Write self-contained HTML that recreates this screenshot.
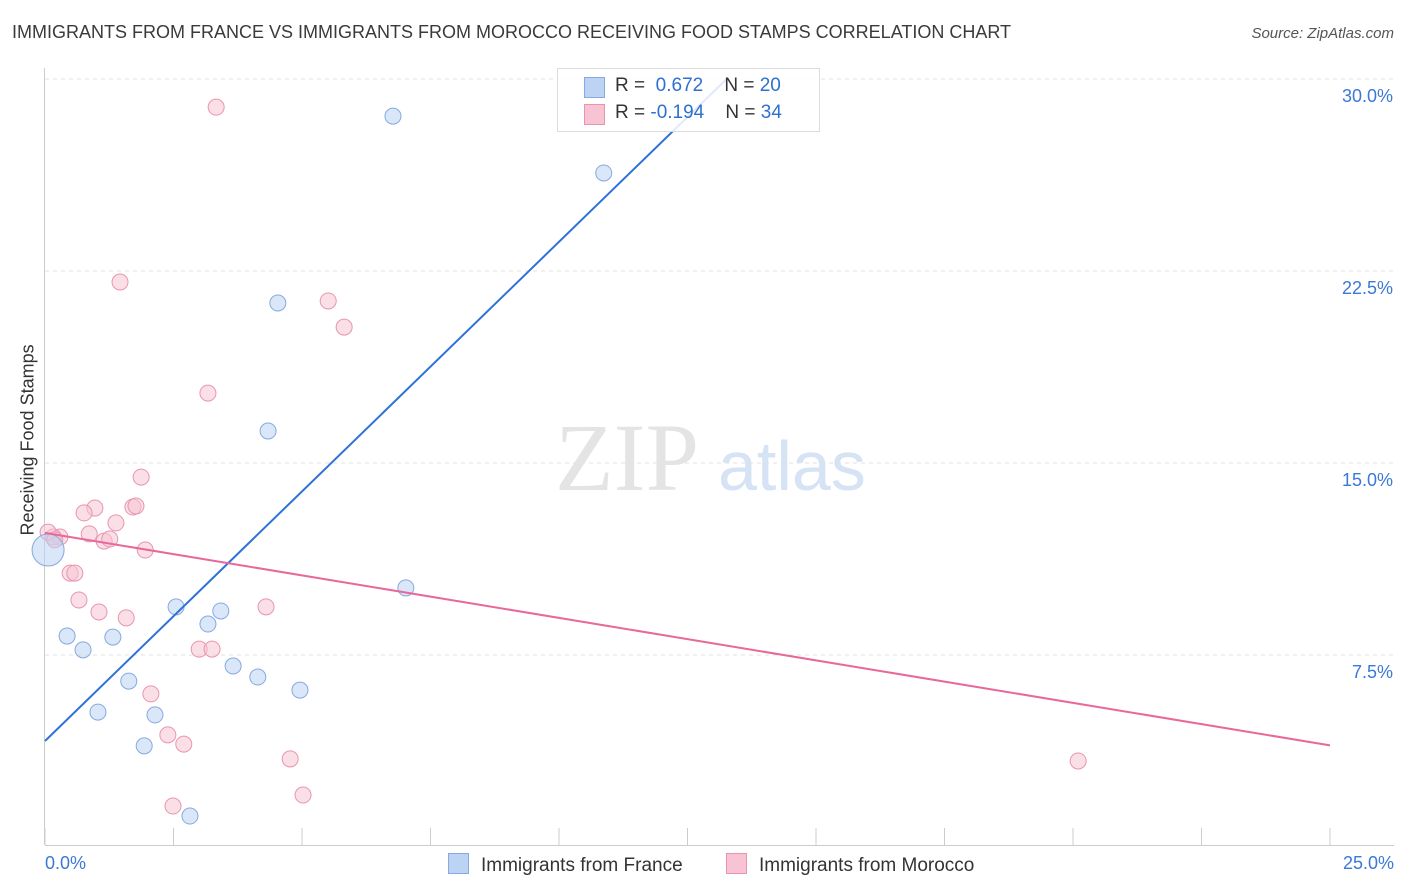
<!DOCTYPE html>
<html><head><meta charset="utf-8"><style>
body{margin:0;background:#fff;font-family:"Liberation Sans",sans-serif;}
#wrap{position:relative;width:1406px;height:892px;overflow:hidden;}
.t{position:absolute;white-space:nowrap;}
</style></head><body>
<div id="wrap">
<div class="t" style="left:12px;top:22px;font-size:18px;color:#3a3a3a;">IMMIGRANTS FROM FRANCE VS IMMIGRANTS FROM MOROCCO RECEIVING FOOD STAMPS CORRELATION CHART</div>
<div class="t" style="right:12px;top:25px;font-size:15px;color:#555;font-style:italic;">Source: ZipAtlas.com</div>
<svg id="svg" width="1406" height="892" style="position:absolute;left:0;top:0;"></svg>
</div>
<script>
const xTicks=[0,2.5,5,7.5,10,12.5,15,17.5,20,22.5,25];
const yTicks=[7.5,15,22.5,30];
const yTickLabels=["7.5%","15.0%","22.5%","30.0%"];
const franceX=[6.77,10.87,4.53,4.34,7.02,2.55,3.42,3.17,0.43,1.32,0.74,3.66,4.14,1.63,4.96,1.03,2.14,1.93,2.82,0.06];
const franceY=[28.55,26.33,21.25,16.25,10.12,9.38,9.22,8.71,8.24,8.20,7.70,7.07,6.64,6.48,6.13,5.27,5.16,3.95,1.21,11.6];
const moroccoX=[3.33,1.46,5.51,5.82,3.17,1.87,0.97,0.76,1.71,1.77,1.38,0.86,0.29,0.16,1.15,1.26,1.95,0.49,0.58,0.66,1.05,1.58,4.30,3.00,3.25,2.06,2.39,2.70,4.77,2.49,5.02,20.10,0.06,0.19];
const moroccoY=[28.9,22.07,21.33,20.31,17.73,14.45,13.24,13.05,13.28,13.32,12.66,12.23,12.11,12.11,11.95,12.03,11.6,10.7,10.7,9.65,9.18,8.95,9.38,7.73,7.73,5.98,4.38,4.02,3.44,1.6,2.03,3.36,12.3,12.0];
const franceLine=[0,4.14,1.95];
const moroccoLine=[0,12.27,-0.332];
const NS="http://www.w3.org/2000/svg";
const svg=document.getElementById('svg');
const X=v=>45+v*51.4, Y=v=>847-v*25.6;
function mk(tag,at){const e=document.createElementNS(NS,tag);for(const k in at)e.setAttribute(k,at[k]);svg.appendChild(e);return e;}
yTicks.forEach((v,i)=>{
 const g=mk('line',{x1:45,x2:1394,y1:Y(v),y2:Y(v),stroke:'#e2e2e2','stroke-dasharray':'4,4'});
 
 
 const t=mk('text',{x:1393,y:Y(v)+23,'text-anchor':'end','font-size':18,fill:'#3b78d8','font-family':'Liberation Sans'});
 t.textContent=yTickLabels[i];
 
 
});
const topGrid=mk('line',{x1:45,x2:1394,y1:79,y2:79,stroke:'#e2e2e2','stroke-dasharray':'4,4'});


const ya=mk('line',{x1:44.5,x2:44.5,y1:68,y2:845,stroke:'#ccc'});


const xa=mk('line',{x1:45,x2:1394,y1:845.5,y2:845.5,stroke:'#ccc'});


xTicks.forEach(v=>{
 const l=mk('line',{x1:X(v),x2:X(v),y1:828,y2:845,stroke:'#ccc'});
 
 
});
const wm=mk('text',{x:555,y:490,'font-size':96,fill:'#e4e4e4','font-family':'Liberation Serif'});wm.textContent='ZIP';


const wm2=mk('text',{x:718,y:490,'font-size':70,fill:'#d6e3f5','font-family':'Liberation Sans'});wm2.textContent='atlas';


function pts(xs,ys,fill,stroke,name){xs.forEach((x,i)=>{
 const c=mk('circle',{cx:X(x),cy:Y(ys[i]),r:(i===xs.length-1&&name==='france-point')?16:8,fill:fill,stroke:stroke,'stroke-width':1,'fill-opacity':0.55});
 
 
});}
pts(moroccoX,moroccoY,'#f8c4d4','#e895b0','morocco-point');
pts(franceX,franceY,'#bcd3f3','#86a9e0','france-point');
const fEnd=(30-franceLine[1])/franceLine[2];
const fl=mk('line',{x1:X(0),y1:Y(franceLine[1]),x2:X(fEnd),y2:Y(30),stroke:'#2e72d8','stroke-width':2});


const ml=mk('line',{x1:X(0),y1:Y(moroccoLine[1]),x2:X(25),y2:Y(moroccoLine[1]+moroccoLine[2]*25),stroke:'#e8689a','stroke-width':2});


</script>
<div class="t" style="left:557px;top:68px;width:261px;height:62px;border:1px solid #ddd;background:rgba(255,255,255,0.85);font-size:19px;color:#333;">
 <div style="position:absolute;left:26px;top:8px;width:19px;height:19px;background:#bcd3f3;border:1px solid #86a9e0;"></div>
 <div style="position:absolute;left:57px;top:6px;">R = &nbsp;<span style="color:#2e6fd0">0.672</span>&nbsp;&nbsp;&nbsp; N = <span style="color:#2e6fd0">20</span></div>
 <div style="position:absolute;left:26px;top:35px;width:19px;height:19px;background:#f8c4d4;border:1px solid #e895b0;"></div>
 <div style="position:absolute;left:57px;top:33px;">R = <span style="color:#2e6fd0">-0.194</span>&nbsp;&nbsp;&nbsp; N = <span style="color:#2e6fd0">34</span></div>
</div>
<div class="t" style="left:-52px;top:445px;transform:rotate(-90deg);font-size:18px;color:#333;width:160px;text-align:center;">Receiving Food Stamps</div>
<div class="t" style="left:45px;top:853px;font-size:18px;color:#3b78d8;">0.0%</div>
<div class="t" style="right:12px;top:853px;font-size:18px;color:#3b78d8;">25.0%</div>
<div class="t" style="left:448px;top:853px;font-size:19px;color:#333;"><span style="display:inline-block;width:19px;height:19px;background:#bcd3f3;border:1px solid #86a9e0;vertical-align:-3px;margin-right:12px;"></span>Immigrants from France</div>
<div class="t" style="left:726px;top:853px;font-size:19px;color:#333;"><span style="display:inline-block;width:19px;height:19px;background:#f8c4d4;border:1px solid #e895b0;vertical-align:-3px;margin-right:12px;"></span>Immigrants from Morocco</div>
</body></html>
